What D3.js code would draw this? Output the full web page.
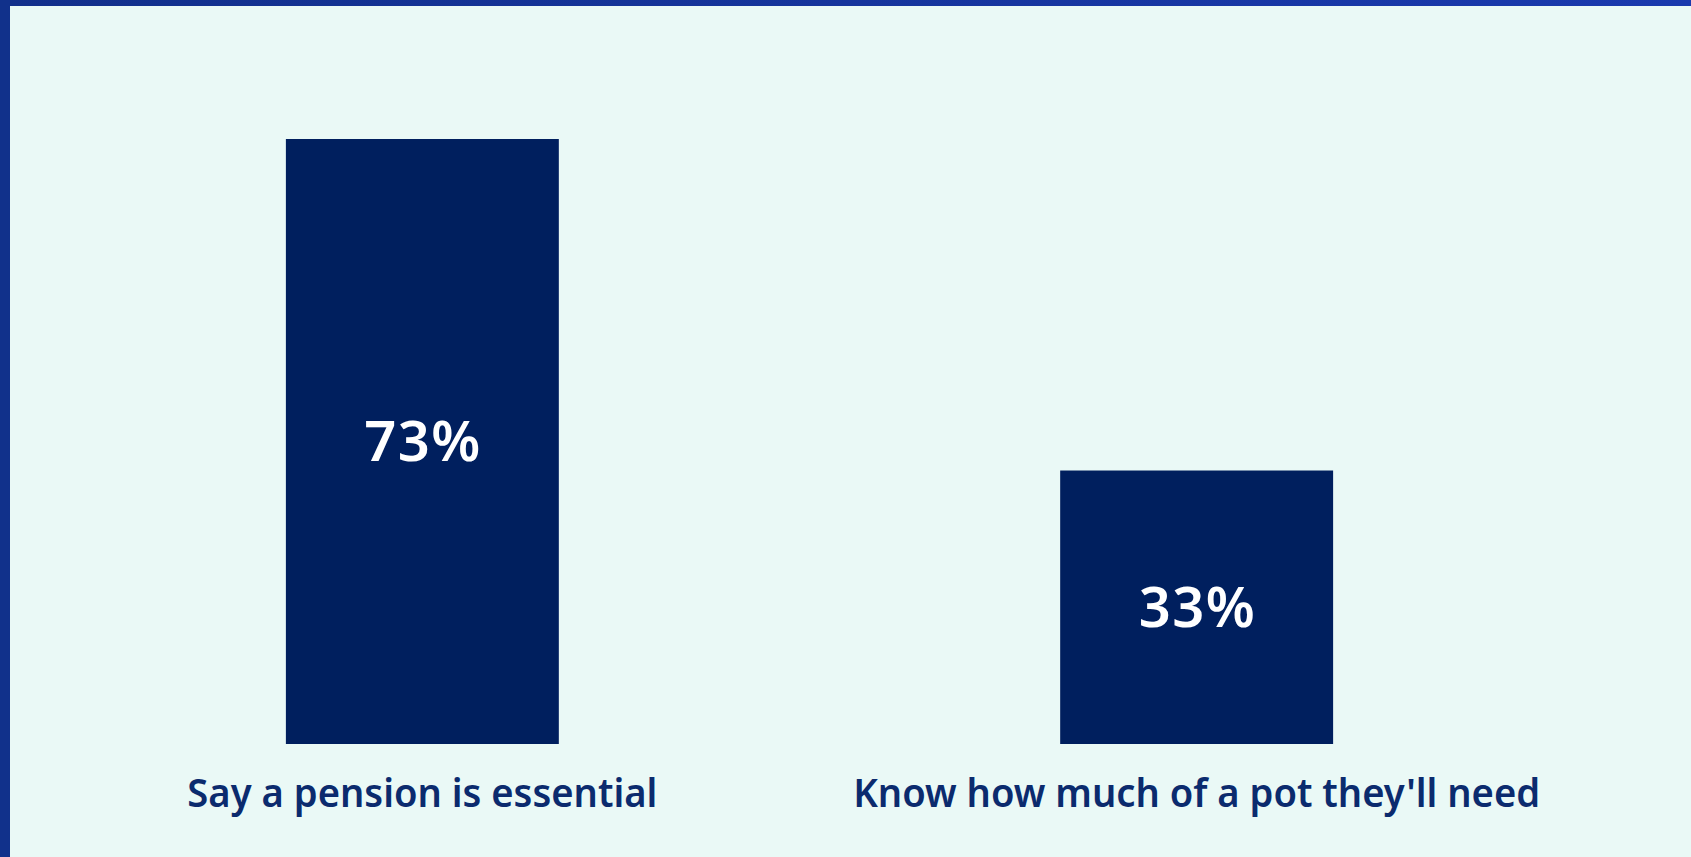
<!DOCTYPE html>
<html>
<head>
<meta charset="utf-8">
<script src="https://cdn.jsdelivr.net/npm/d3@7"></script>
<style>
  html, body { margin: 0; padding: 0; background: #eaf9f6; overflow: hidden; }
  svg { display: block; }
</style>
</head>
<body>
<div id="chart"></div>
<script>
const width = 1691;
const height = 857;

// data
const categories = ["Say a pension is essential", "Know how much of a pot they'll need"];
const values = [73, 33];
const valueLabels = ["73%", "33%"];

const svg = d3.select("#chart")
  .append("svg")
  .attr("width", width)
  .attr("height", height);

// frame: gradient strip on top, solid strip on the left
const defs = svg.append("defs");
const grad = defs.append("linearGradient")
  .attr("id", "topGrad")
  .attr("x1", "0%").attr("x2", "100%");
grad.append("stop").attr("offset", "0%").attr("stop-color", "#12308b");
grad.append("stop").attr("offset", "100%").attr("stop-color", "#1a3aae");

svg.append("rect")
  .attr("width", width)
  .attr("height", height)
  .attr("fill", "#eaf9f6");

svg.append("rect")
  .attr("x", 0).attr("y", 0)
  .attr("width", width).attr("height", 6)
  .attr("fill", "url(#topGrad)");

svg.append("rect")
  .attr("x", 0).attr("y", 0)
  .attr("width", 10).attr("height", height)
  .attr("fill", "#11318b");

// scales
const x = d3.scaleBand()
  .domain(categories)
  .range([53.6, 1565.4])
  .paddingInner(0.6475)
  .paddingOuter(0.3);

const y = d3.scaleLinear()
  .domain([0, 73])
  .range([744, 139]);

const bars = svg.append("g").attr("class", "bars");

bars.selectAll("rect")
  .data(values)
  .enter().append("rect")
  .attr("x", (d, i) => x(categories[i]))
  .attr("y", d => y(d))
  .attr("width", x.bandwidth())
  .attr("height", d => y(0) - y(d))
  .attr("fill", "#001f5e");

// value labels in the middle of each bar
bars.selectAll(".value")
  .data(values)
  .enter().append("text")
  .attr("class", "value")
  .attr("x", (d, i) => x(categories[i]) + x.bandwidth() / 2)
  .attr("y", d => (y(d) + y(0)) / 2)
  .attr("dy", "0.357em")
  .attr("text-anchor", "middle")
  .attr("fill", "#ffffff")
  .attr("textLength", 116)
  .attr("lengthAdjust", "spacing")
  .style("font-family", "'Noto Sans', sans-serif")
  .style("font-weight", 600)
  .style("font-size", "56px")
  .text((d, i) => valueLabels[i]);

// category labels under the bars
const labelWidths = [470, 687];
svg.append("g").attr("class", "labels")
  .selectAll("text")
  .data(categories)
  .enter().append("text")
  .attr("x", d => x(d) + x.bandwidth() / 2)
  .attr("y", y(0) + 63)
  .attr("text-anchor", "middle")
  .attr("fill", "#0b2b6e")
  .attr("textLength", (d, i) => labelWidths[i])
  .attr("lengthAdjust", "spacingAndGlyphs")
  .style("font-family", "'Noto Sans', sans-serif")
  .style("font-weight", 600)
  .style("font-size", "40px")
  .text(d => d);
</script>
</body>
</html>
